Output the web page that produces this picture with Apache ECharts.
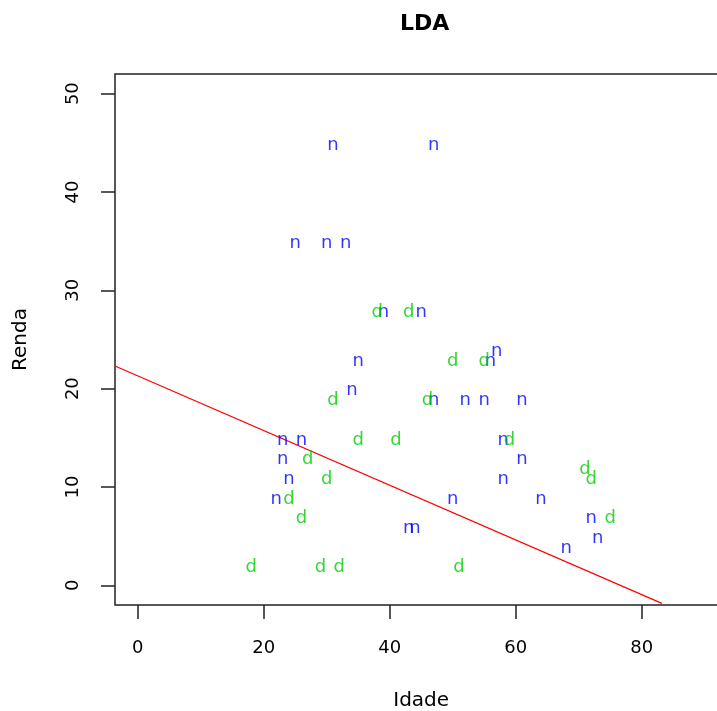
<!DOCTYPE html>
<html>
<head>
<meta charset="utf-8">
<script src="https://cdn.jsdelivr.net/npm/echarts@6/dist/echarts.min.js"></script>
<style>html,body{margin:0;padding:0;background:#fff}#chart{width:717px;height:711px}</style>
</head>
<body>
<div id="chart"></div>
<script>
// Class "n" (blue)
var nIdade = [31,47,25,30,33,39,45,57,35,56,34,47,52,55,61,23,26,58,23,61,24,58,22,50,64,43,44,72,73,68];
var nRenda = [45,45,35,35,35,28,28,24,23,23,20,19,19,19,19,15,15,15,13,13,11,11,9,9,9,6,6,7,5,4];
// Class "d" (green)
var dIdade = [38,43,50,55,31,46,35,41,59,27,71,30,72,24,26,75,18,29,32,51];
var dRenda = [28,28,23,23,19,19,15,15,15,13,12,11,11,9,7,7,2,2,2,2];
// LDA boundary line endpoints (read at the plot edges)
var lineIdade = [-3.6, 83.2];
var lineRenda = [22.3, -1.83];
// Tick labels
var xTicks = [0,20,40,60,80];
var yTicks = [0,10,20,30,40,50];

function pairs(xs, ys){ return xs.map(function(x,i){ return [x, ys[i]]; }); }

var FONT = 'DejaVu Sans';
var chart = echarts.init(document.getElementById('chart'), null, {renderer:'canvas'});
function textSeries(name, xs, ys, label, color){
  return {
    name: name, type: 'scatter', data: pairs(xs, ys),
    symbol: 'circle', symbolSize: 1,
    itemStyle: {color: 'rgba(0,0,0,0)'},
    label: {show: true, position: 'inside', formatter: label, color: color,
            fontFamily: FONT, fontSize: 18, offset: [0, 2]},
    emphasis: {disabled: true}, silent: true, z: 3
  };
}
chart.setOption({
  animation: false,
  backgroundColor: '#fff',
  title: {text: 'LDA', left: 395, top: 8,
          textStyle: {fontFamily: FONT, fontWeight: 'bold', fontSize: 22, color: '#000'}},
  grid: {left: 115, top: 74, right: -10.4, bottom: 106, show: true,
         outerBoundsMode: 'none', containLabel: false,
         borderColor: '#222', borderWidth: 1.5, backgroundColor: 'transparent'},
  xAxis: {
    type: 'value', min: -3.6, max: 93.6,
    name: 'Idade', nameLocation: 'middle', nameGap: 86,
    nameTextStyle: {fontFamily: FONT, fontSize: 20, color: '#000'},
    axisLine: {show: false, onZero: false},
    axisTick: {show: true, length: 14, inside: false, customValues: xTicks,
               lineStyle: {color: '#222', width: 1.5}},
    axisLabel: {show: true, customValues: xTicks, margin: 34,
                fontFamily: FONT, fontSize: 18, color: '#000'},
    splitLine: {show: false}
  },
  yAxis: {
    type: 'value', min: -2, max: 52,
    name: 'Renda', nameLocation: 'middle', nameGap: 84,
    nameTextStyle: {fontFamily: FONT, fontSize: 20, color: '#000'},
    axisLine: {show: false, onZero: false},
    axisTick: {show: true, length: 14, inside: false, customValues: yTicks,
               lineStyle: {color: '#222', width: 1.5}},
    axisLabel: {show: true, customValues: yTicks, margin: 33, rotate: 90,
                fontFamily: FONT, fontSize: 18, color: '#000'},
    splitLine: {show: false}
  },
  series: [
    textSeries('n', nIdade, nRenda, 'n', '#0000FF'),
    textSeries('d', dIdade, dRenda, 'd', '#00CD00'),
    {
      name: 'LDA', type: 'line', data: pairs(lineIdade, lineRenda),
      symbol: 'none', lineStyle: {color: '#FF0000', width: 1.2},
      silent: true, z: 2
    }
  ]
});
</script>
</body>
</html>
